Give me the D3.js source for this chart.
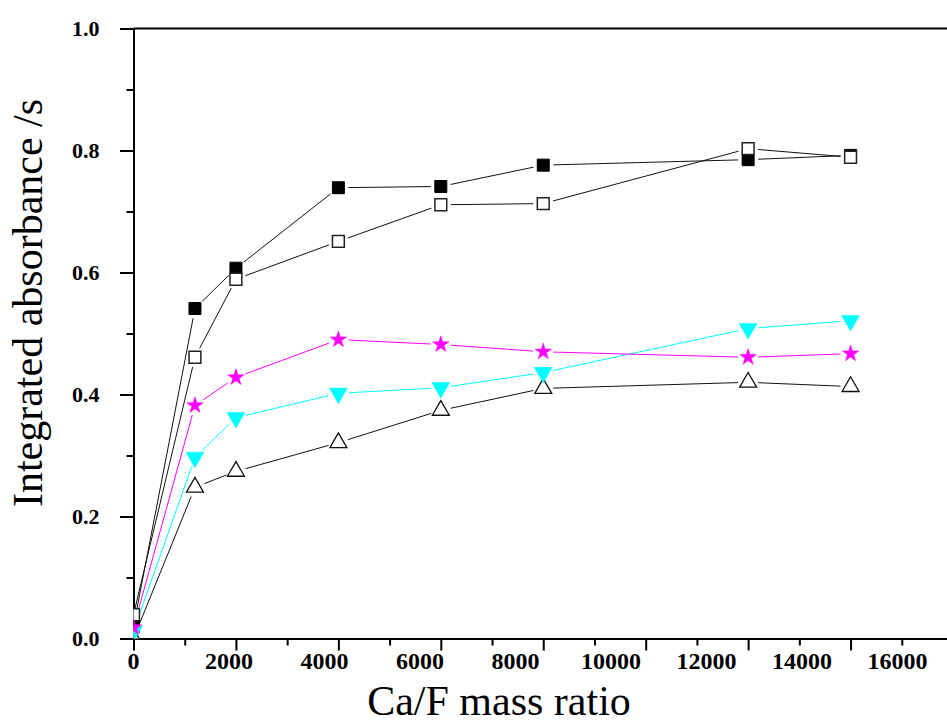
<!DOCTYPE html>
<html>
<head>
<meta charset="utf-8">
<script src="https://cdn.jsdelivr.net/npm/d3@7/dist/d3.min.js"></script>
<style>
  html, body { margin: 0; padding: 0; background: #fff; }
  svg { display: block; }
</style>
</head>
<body>
<svg id="chart" width="947" height="724"></svg>
<script>
// Ca/F mass ratio (x) for every series
const caF = [0, 1200, 2000, 4000, 6000, 8000, 12000, 14000];

// Integrated absorbance (s) per series
const filledSquare = [0.020, 0.541, 0.607, 0.739, 0.741, 0.776, 0.785, 0.792];
const openSquare   = [0.039, 0.461, 0.589, 0.651, 0.711, 0.713, 0.803, 0.789];
const magentaStar  = [0.018, 0.382, 0.428, 0.490, 0.482, 0.470, 0.461, 0.467];
const cyanTriangle = [0.012, 0.297, 0.362, 0.402, 0.411, 0.436, 0.508, 0.521];
const openTriangle = [0.000, 0.248, 0.274, 0.321, 0.374, 0.410, 0.420, 0.413];

// Axis ticks
const xTickValues = d3.range(0, 16001, 1000);
const xTickLabels = [0, 2000, 4000, 6000, 8000, 10000, 12000, 14000, 16000];
const yTickValues = d3.range(0, 1.001, 0.1).map(v => +v.toFixed(1));
const yTickLabels = [0.0, 0.2, 0.4, 0.6, 0.8, 1.0];

const svg = d3.select("#chart");
const serif = "'Liberation Serif', 'Times New Roman', serif";

const x = d3.scaleLinear().domain([0, 16000]).range([133.5, 953]);
// tick labels sit on a slightly tighter spacing than the tick marks
const xLabel = d3.scaleLinear().domain([0, 16000]).range([133, 897]);
const y = d3.scaleLinear().domain([0, 1]).range([638.5, 28.5]);

// clip region for the plotted marks
svg.append("clipPath").attr("id", "plotClip")
  .append("rect")
  .attr("x", x(0)).attr("y", y(1))
  .attr("width", x(16000) - x(0)).attr("height", y(0) - y(1));

// top frame line
svg.append("line")
  .attr("x1", x(0)).attr("x2", x(16000))
  .attr("y1", y(1)).attr("y2", y(1))
  .attr("stroke", "#000").attr("stroke-width", 2);

// x axis: tick marks
const isMajorX = v => v % 2000 === 0;
const gx = svg.append("g").attr("transform", `translate(0,${y(0)})`)
  .call(d3.axisBottom(x).tickValues(xTickValues).tickSizeOuter(0).tickFormat(""));
gx.select(".domain").attr("stroke-width", 2);
gx.selectAll(".tick line")
  .attr("stroke-width", 2)
  .attr("y2", d => isMajorX(d) ? 12 : 7);

// x axis: labels
const gxl = svg.append("g").attr("transform", `translate(0,${y(0)})`)
  .call(d3.axisBottom(xLabel).tickValues(xTickLabels).tickSize(0).tickPadding(13).tickFormat(d3.format("d")));
gxl.select(".domain").remove();
gxl.selectAll("text")
  .attr("font-family", serif).attr("font-weight", "bold")
  .attr("font-size", 24).attr("fill", "#000");

// y axis
const isMajorY = v => Math.abs(v * 10 % 2) < 1e-6;
const gy = svg.append("g").attr("transform", `translate(${x(0)},0)`)
  .call(d3.axisLeft(y).tickValues(yTickValues).tickSizeOuter(0)
    .tickPadding(22)
    .tickFormat(d => yTickLabels.some(l => Math.abs(l - d) < 1e-6) ? d3.format(".1f")(d) : ""));
gy.select(".domain").attr("stroke-width", 2);
gy.selectAll(".tick line")
  .attr("stroke-width", 2)
  .attr("x2", d => isMajorY(d) ? -13.5 : -7);
gy.selectAll("text")
  .attr("font-family", serif).attr("font-weight", "bold")
  .attr("font-size", 22).attr("fill", "#000")
  .attr("x", -34);

// axis titles
svg.append("text")
  .attr("x", 499).attr("y", 715)
  .attr("text-anchor", "middle")
  .attr("font-family", serif).attr("font-size", 42)
  .text("Ca/F mass ratio");

svg.append("text")
  .attr("transform", "translate(42,303) rotate(-90)")
  .attr("text-anchor", "middle")
  .attr("font-family", serif).attr("font-size", 42)
  .text("Integrated absorbance /s");

// series definitions
const series = [
  { values: filledSquare, line: "#111", type: d3.symbolSquare, size: 144, rot: 0, fill: "#000", stroke: "#000", sw: 1 },
  { values: openSquare, line: "#111", type: d3.symbolSquare, size: 140, rot: 0, fill: "#fff", stroke: "#222", sw: 1.5 },
  { values: openTriangle, line: "#111", type: d3.symbolTriangle, size: 125, rot: 0, fill: "#fff", stroke: "#111", sw: 1.3 },
  { values: cyanTriangle, line: "#00ffff", type: d3.symbolTriangle, size: 140, rot: 180, fill: "#00ffff", stroke: "#00ffff", sw: 0.5 },
  { values: magentaStar, line: "#ff00ff", type: d3.symbolStar, size: 85, rot: 0, fill: "#ff00ff", stroke: "#ff00ff", sw: 0.5 }
];

const plot = svg.append("g").attr("clip-path", "url(#plotClip)");
const gap = 10;

series.forEach(s => {
  const pts = s.values.map((v, i) => [x(caF[i]), y(v)]);
  // connecting segments, stopped short of each marker
  const segs = [];
  for (let i = 0; i < pts.length - 1; i++) {
    const [x1, y1] = pts[i], [x2, y2] = pts[i + 1];
    const len = Math.hypot(x2 - x1, y2 - y1);
    const g1 = i === 0 ? 0 : gap;
    if (len <= g1 + gap) continue;
    const ux = (x2 - x1) / len, uy = (y2 - y1) / len;
    segs.push([x1 + ux * g1, y1 + uy * g1, x2 - ux * gap, y2 - uy * gap]);
  }
  plot.append("g").selectAll("line").data(segs).join("line")
    .attr("x1", d => d[0]).attr("y1", d => d[1])
    .attr("x2", d => d[2]).attr("y2", d => d[3])
    .attr("stroke", s.line).attr("stroke-width", 1);
  s.pts = pts;
});

series.forEach(s => {
  const sym = d3.symbol().type(s.type).size(s.size);
  plot.append("g").selectAll("path").data(s.pts).join("path")
    .attr("d", sym)
    .attr("transform", d => `translate(${d[0]},${d[1]}) rotate(${s.rot})`)
    .attr("fill", s.fill).attr("stroke", s.stroke).attr("stroke-width", s.sw);
});
</script>
</body>
</html>
